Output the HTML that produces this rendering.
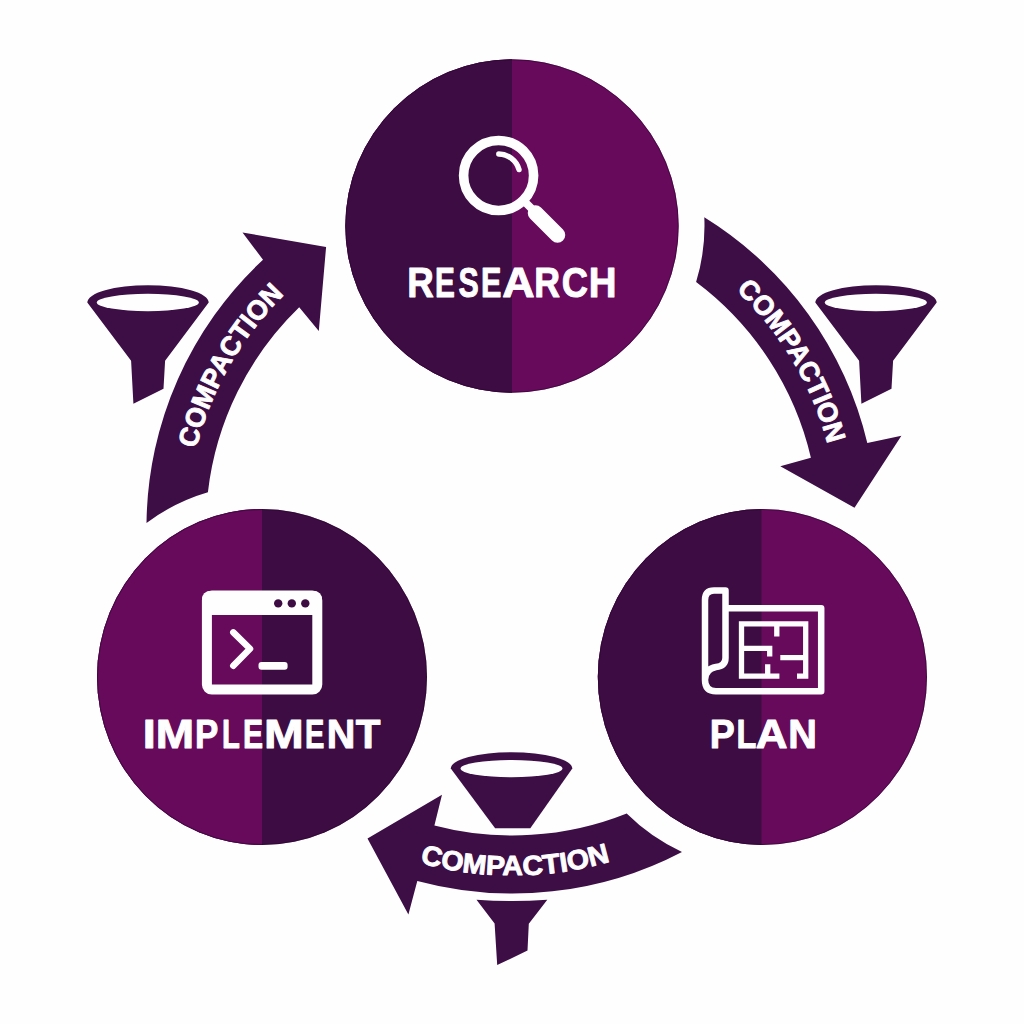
<!DOCTYPE html>
<html><head><meta charset="utf-8"><style>
html,body{margin:0;padding:0;background:#fefefe;}
svg{display:block;}
.lbl{font-family:"Liberation Sans",sans-serif;font-weight:bold;fill:#fefefe;}
.big{stroke:#fefefe;stroke-width:0.9px;stroke-linejoin:round;}
.cmp{stroke:#fefefe;stroke-width:0.9px;stroke-linejoin:round;}
</style></head><body>
<svg width="1024" height="1024" viewBox="0 0 1024 1024">
<rect width="1024" height="1024" fill="#fefefe"/>
<defs>
<clipPath id="hR"><rect x="300" y="0" width="212" height="420"/></clipPath>
<clipPath id="hI"><rect x="50" y="480" width="212" height="400"/></clipPath>
<clipPath id="hP"><rect x="550" y="480" width="211.5" height="400"/></clipPath>
<path id="tl" d="M 191.7 585.2 A 326 326 0 0 1 399.9 221.6"/><path id="tr" d="M 619.9 219.7 A 326 326 0 0 1 834.3 579.8"/><path id="tb" d="M 291.0 795.9 A 348 348 0 0 0 738.3 792.3"/>
</defs>
<ellipse cx="512" cy="226" rx="166.7" ry="166.7" fill="#670a5b"/>
<ellipse clip-path="url(#hR)" cx="512" cy="226" rx="166.7" ry="166.7" fill="#3c0c42"/>
<ellipse cx="512" cy="226" rx="166.2" ry="166.2" fill="none" stroke="#2a0430" stroke-width="1" stroke-opacity="0.55"/>
<ellipse cx="262" cy="677" rx="165" ry="168" fill="#3c0c42"/>
<ellipse clip-path="url(#hI)" cx="262" cy="677" rx="165" ry="168" fill="#670a5b"/>
<ellipse cx="262" cy="677" rx="164.5" ry="167.5" fill="none" stroke="#2a0430" stroke-width="1" stroke-opacity="0.55"/>
<ellipse cx="762.4" cy="677" rx="164.6" ry="168" fill="#670a5b"/>
<ellipse clip-path="url(#hP)" cx="762.4" cy="677" rx="164.6" ry="168" fill="#3c0c42"/>
<ellipse cx="762.4" cy="677" rx="164.1" ry="167.5" fill="none" stroke="#2a0430" stroke-width="1" stroke-opacity="0.55"/>

<path d="M 146.5 523.0 A 366 366 0 0 1 263.0 259.7 L 242.5 232.5 L 326.1 246.9 L 318.8 331.0 L 299.2 307.3 A 306.6 306.6 0 0 0 207.9 492.2 A 192.5 192.5 0 0 0 146.5 523.0 Z" fill="#3d0e46"/>
<path d="M 704.3 217.3 A 364.7 364.7 0 0 1 867.3 442.9 L 901.4 435.8 L 854.5 507.7 L 780.3 466.2 L 810.9 457.7 A 306.5 306.5 0 0 0 696.1 282.1 A 192.5 192.5 0 0 0 704.3 217.3 Z" fill="#3d0e46"/>
<path d="M 682.0 851.9 A 366 366 0 0 1 417.3 880.9 L 408.4 914.4 L 367.5 838.6 L 442.0 794.8 L 434.4 825.4 A 308 308 0 0 0 626.7 813.5 A 192.5 192.5 0 0 0 682.0 851.9 Z" fill="#3d0e46"/>
<path d="M 87.3 302.5 A 60.6 17.2 0 0 1 208.7 302.5 L 165.1 360.7 L 163.5 388.8 L 133.4 403.7 L 131.1 360.7 Z" fill="#3d0e46"/><ellipse cx="147.8" cy="302.5" rx="51.1" ry="8.65" fill="#fefefe"/>
<path d="M 815.3 302.5 A 60.6 17.2 0 0 1 936.7 302.5 L 893.1 360.7 L 891.5 388.8 L 861.4 403.7 L 859.1 360.7 Z" fill="#3d0e46"/><ellipse cx="875.8" cy="302.5" rx="51.1" ry="8.65" fill="#fefefe"/>
<!-- bottom funnel top -->
<path d="M 450.8 768.6 A 60.75 16.4 0 0 1 572.3 768.6 L 530.3 828.3 L 495.1 828.3 Z" fill="#3d0e46"/>
<ellipse cx="511.5" cy="768.6" rx="51" ry="8.6" fill="#fefefe"/>
<path d="M 476.5 899.7 Q 512 902.5 547.3 899.7 L 528.8 923.8 L 527.5 950.6 L 497.2 965.1 L 494.6 923.4 Z" fill="#3d0e46"/>

<text class="lbl cmp" font-size="27.4"><textPath href="#tl" startOffset="50%" text-anchor="middle" textLength="180" lengthAdjust="spacingAndGlyphs">COMPACTION</textPath></text>
<text class="lbl cmp" font-size="27.4"><textPath href="#tr" startOffset="50%" text-anchor="middle" textLength="181.5" lengthAdjust="spacingAndGlyphs">COMPACTION</textPath></text>
<text class="lbl cmp" font-size="27.4"><textPath href="#tb" startOffset="50%" text-anchor="middle" textLength="193" lengthAdjust="spacingAndGlyphs">COMPACTION</textPath></text>

<!-- research icon -->
<circle cx="498.6" cy="175.5" r="35" fill="none" stroke="#fefefe" stroke-width="9.6"/>
<path d="M 498.8 154 A 21.5 21.5 0 0 1 519 169.6" fill="none" stroke="#fefefe" stroke-width="5.4" stroke-linecap="round"/>
<line x1="524" y1="201" x2="536" y2="213" stroke="#fefefe" stroke-width="8"/>
<line x1="535.5" y1="213" x2="557.5" y2="235" stroke="#fefefe" stroke-width="15.5" stroke-linecap="round"/>
<text class="lbl" transform="translate(407.28 297.3) scale(0.8689 1)" font-size="42.3" stroke="#fefefe" stroke-width="1.0" stroke-linejoin="round">R</text>
<text class="lbl" transform="translate(435.06 297.3) scale(0.7035 1)" font-size="42.3" stroke="#fefefe" stroke-width="1.0" stroke-linejoin="round">E</text>
<text class="lbl" transform="translate(458.38 297.3) scale(0.7175 1)" font-size="42.3" stroke="#fefefe" stroke-width="1.0" stroke-linejoin="round">S</text>
<text class="lbl" transform="translate(480.91 297.3) scale(0.7238 1)" font-size="42.3" stroke="#fefefe" stroke-width="1.0" stroke-linejoin="round">E</text>
<text class="lbl" transform="translate(502.31 297.3) scale(1.0586 1)" font-size="42.3" stroke="#fefefe" stroke-width="1.0" stroke-linejoin="round">A</text>
<text class="lbl" transform="translate(534.33 297.3) scale(0.8438 1)" font-size="42.3" stroke="#fefefe" stroke-width="1.0" stroke-linejoin="round">R</text>
<text class="lbl" transform="translate(561.64 297.3) scale(0.8585 1)" font-size="42.3" stroke="#fefefe" stroke-width="1.0" stroke-linejoin="round">C</text>
<text class="lbl" transform="translate(588.68 297.3) scale(0.9085 1)" font-size="42.3" stroke="#fefefe" stroke-width="1.0" stroke-linejoin="round">H</text>

<!-- implement icon -->
<rect x="206.9" y="595.5" width="110.4" height="94.1" rx="5" fill="none" stroke="#fefefe" stroke-width="10"/>
<rect x="202" y="591" width="120" height="24" rx="8" fill="#fefefe"/>
<circle cx="278.2" cy="603.4" r="4.2" fill="#3c0c42"/>
<circle cx="291.8" cy="603.4" r="4.2" fill="#3c0c42"/>
<circle cx="305.3" cy="603.4" r="4.2" fill="#3c0c42"/>
<path d="M 233.3 632.4 L 250 648.8 L 233.3 665.8" fill="none" stroke="#fefefe" stroke-width="6.5" stroke-linecap="round" stroke-linejoin="round"/>
<rect x="258.5" y="662" width="29.1" height="7.7" rx="3" fill="#fefefe"/>
<text class="lbl" transform="translate(142.83 748.0) scale(1.1416 1)" font-size="41.1" stroke="#fefefe" stroke-width="1.0" stroke-linejoin="round">I</text>
<text class="lbl" transform="translate(155.68 748.0) scale(1.1198 1)" font-size="41.1" stroke="#fefefe" stroke-width="1.0" stroke-linejoin="round">M</text>
<text class="lbl" transform="translate(194.99 748.0) scale(0.8492 1)" font-size="41.1" stroke="#fefefe" stroke-width="1.0" stroke-linejoin="round">P</text>
<text class="lbl" transform="translate(222.00 748.0) scale(0.7107 1)" font-size="41.1" stroke="#fefefe" stroke-width="1.0" stroke-linejoin="round">L</text>
<text class="lbl" transform="translate(243.05 748.0) scale(0.7315 1)" font-size="41.1" stroke="#fefefe" stroke-width="1.0" stroke-linejoin="round">E</text>
<text class="lbl" transform="translate(264.09 748.0) scale(1.1601 1)" font-size="41.1" stroke="#fefefe" stroke-width="1.0" stroke-linejoin="round">M</text>
<text class="lbl" transform="translate(305.01 748.0) scale(0.7066 1)" font-size="41.1" stroke="#fefefe" stroke-width="1.0" stroke-linejoin="round">E</text>
<text class="lbl" transform="translate(326.84 748.0) scale(0.9618 1)" font-size="41.1" stroke="#fefefe" stroke-width="1.0" stroke-linejoin="round">N</text>
<text class="lbl" transform="translate(355.74 748.0) scale(0.9840 1)" font-size="41.1" stroke="#fefefe" stroke-width="1.0" stroke-linejoin="round">T</text>

<!-- plan icon -->
<path d="M 725.5 608.3 L 821.2 608.3 L 821.2 691.2 L 716 691.2 Q 705 691.2 705 680 L 705 600 Q 705 590.6 714 590.6 L 725.5 590.6 L 725.5 658 Q 725.5 666 716 667 Q 705 669 705 680" fill="none" stroke="#fefefe" stroke-width="6.5" stroke-linejoin="round"/>
<path d="M 779.4 676.2 L 741.5 676.2 L 741.5 623.8 L 805.7 623.8 L 805.7 676.2 L 797 676.2 M 776.8 623.8 L 776.8 636.5 M 741.5 648.4 L 769.7 648.4 L 769.7 656.4 M 767.7 664.3 L 767.7 676.2 M 805.7 657.7 L 780.3 657.7" fill="none" stroke="#fefefe" stroke-width="5.3"/>
<text class="lbl" transform="translate(709.65 748.0) scale(0.9068 1)" font-size="41.3" stroke="#fefefe" stroke-width="1.0" stroke-linejoin="round">P</text>
<text class="lbl" transform="translate(736.52 748.0) scale(0.7885 1)" font-size="41.3" stroke="#fefefe" stroke-width="1.0" stroke-linejoin="round">L</text>
<text class="lbl" transform="translate(755.84 748.0) scale(1.0659 1)" font-size="41.3" stroke="#fefefe" stroke-width="1.0" stroke-linejoin="round">A</text>
<text class="lbl" transform="translate(788.22 748.0) scale(0.9612 1)" font-size="41.3" stroke="#fefefe" stroke-width="1.0" stroke-linejoin="round">N</text>
</svg>
</body></html>
